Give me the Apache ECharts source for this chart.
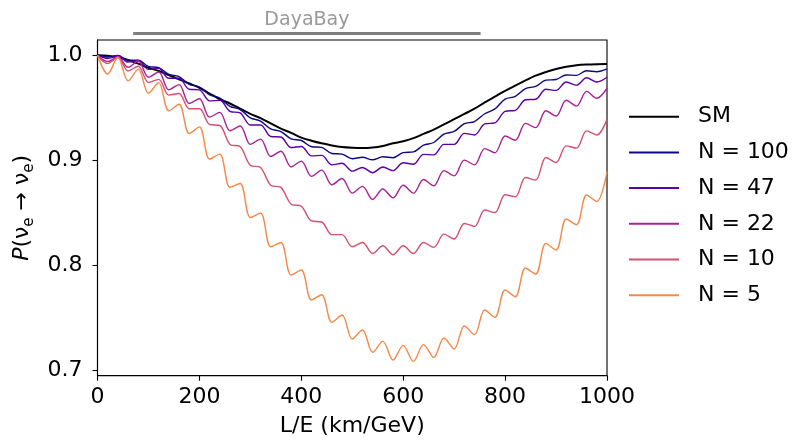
<!DOCTYPE html>
<html><head><meta charset="utf-8">
<script src="https://cdn.jsdelivr.net/npm/echarts@6/dist/echarts.min.js"></script>
<style>html,body{margin:0;padding:0;background:#fff}#c{width:799px;height:444px}</style>
</head><body><div id="c"></div>
<script>
// L/E sample positions (km/GeV)
const lOverE = [0,20,40,60,80,100,120,140,160,180,200,220,240,260,280,300,320,340,360,380,400,
  420,440,460,480,500,520,540,560,580,600,620,640,660,680,700,720,740,760,780,800,
  820,840,860,880,900,920,940,960,980,1000];

const probSM = [1.0,0.9995,0.998,0.9955,0.992,0.988,0.985,0.981,0.977,0.973,0.969,0.9635,0.958,0.954,0.949,0.944,0.940,0.935,0.930,0.926,0.9215,
  0.9185,0.916,0.914,0.9125,0.9118,0.9115,0.912,0.9135,0.916,0.918,0.921,0.925,0.929,0.934,0.939,0.944,0.949,0.955,0.9605,0.966,
  0.971,0.976,0.9805,0.984,0.9868,0.989,0.9905,0.9912,0.9915,0.9916];

const probN100 = [1.0,0.9983,0.9997,0.9953,0.9952,0.9893,0.9882,0.9818,0.9797,0.9723,0.9697,0.9623,0.9592,0.9513,0.9482,0.9403,0.9372,0.9298,0.9272,0.9203,0.9187,
  0.9128,0.9122,0.9063,0.9057,0.9013,0.9027,0.9003,0.9032,0.9023,0.9072,0.9078,0.9142,0.9168,0.9247,0.9273,0.9347,0.9368,0.9442,0.9488,0.9582,
  0.9608,0.9682,0.9703,0.9762,0.9768,0.9812,0.9808,0.9852,0.9843,0.987];

const probN47 = [1.0,0.9968,0.9995,0.9935,0.995,0.9865,0.9875,0.978,0.978,0.9675,0.967,0.9565,0.957,0.9465,0.945,0.9335,0.9335,0.9225,0.922,0.912,0.913,
  0.904,0.9045,0.8955,0.897,0.8895,0.893,0.888,0.8935,0.89,0.8975,0.896,0.9055,0.905,0.915,0.915,0.9255,0.924,0.9345,0.9355,0.9465,
  0.9475,0.9575,0.958,0.9675,0.9665,0.9745,0.9715,0.9785,0.9745,0.979];

const probN22 = [1.0,0.994,0.9985,0.9885,0.9945,0.979,0.984,0.967,0.972,0.954,0.9585,0.941,0.9455,0.928,0.9325,0.915,0.92,0.9035,0.9085,0.8935,0.899,
  0.8845,0.8905,0.8765,0.8825,0.8685,0.875,0.8625,0.8725,0.864,0.876,0.8685,0.8815,0.8755,0.89,0.885,0.9,0.8955,0.911,0.907,0.923,
  0.919,0.935,0.931,0.947,0.942,0.957,0.9515,0.9655,0.959,0.9685];

const probN10 = [1.0,0.992,0.998,0.985,0.9895,0.974,0.977,0.962,0.9635,0.949,0.949,0.934,0.933,0.915,0.913,0.895,0.893,0.876,0.874,0.858,0.856,
  0.842,0.841,0.829,0.829,0.8174,0.8215,0.811,0.8184,0.8098,0.8184,0.811,0.8215,0.8168,0.8295,0.8248,0.8396,0.8368,0.8524,0.850,0.867,
  0.865,0.8834,0.881,0.9025,0.8977,0.9136,0.9114,0.9279,0.924,0.939];

const probN5 = [1.0,0.982,0.998,0.9755,0.9867,0.9638,0.9739,0.947,0.9533,0.9253,0.9317,0.901,0.9057,0.874,0.8777,0.8453,0.8495,0.8174,0.8215,0.7905,0.7952,
  0.7667,0.7717,0.7453,0.7524,0.7295,0.7381,0.7168,0.7272,0.7095,0.7234,0.7082,0.7241,0.712,0.7305,0.72,0.7419,0.7336,0.7571,0.7501,0.7762,
  0.7698,0.7971,0.7914,0.8206,0.8143,0.8438,0.8384,0.8667,0.8606,0.889];

const seriesNames = ['SM','N = 100','N = 47','N = 22','N = 10','N = 5'];
const seriesValues = [probSM, probN100, probN47, probN22, probN10, probN5];
const seriesColors = ['#000000','#0d0887','#5c01a6','#a82296','#d35171','#f48849'];
const seriesWidths = [2, 1.4, 1.4, 1.4, 1.4, 1.4];

const yTicks = [0.7, 0.8, 0.9, 1.0];
const dayaBayRange = [70, 752];
const dayaBayLevel = 1.0208;

const FONT = 'DejaVu Sans';
const chart = echarts.init(document.getElementById('c'), null, {renderer: 'canvas'});

const series = seriesNames.map((name, k) => ({
  name: name,
  type: 'line',
  data: lOverE.map((x, i) => [x, seriesValues[k][i]]),
  smooth: 0.33,
  symbol: 'none',
  showSymbol: false,
  lineStyle: {color: seriesColors[k], width: seriesWidths[k]},
  itemStyle: {color: seriesColors[k]},
  z: 2 + k
}));

series.push({
  name: 'DayaBay',
  type: 'line',
  data: dayaBayRange.map(x => [x, dayaBayLevel]),
  symbol: 'none',
  clip: false,
  silent: true,
  lineStyle: {color: '#808080', width: 3},
  z: 10
});
series.push({
  name: 'DayaBayLabel',
  type: 'scatter',
  data: [[(dayaBayRange[0] + dayaBayRange[1]) / 2, dayaBayLevel]],
  symbolSize: 0,
  clip: false,
  silent: true,
  label: {show: true, position: 'top', distance: 4, formatter: 'DayaBay',
    color: '#808080', fontSize: 19, fontFamily: FONT},
  z: 10
});

chart.setOption({
  animation: false,
  backgroundColor: '#ffffff',
  textStyle: {fontFamily: FONT},
  grid: {left: 97.5, right: 192, top: 40, bottom: 68.3, show: true,
    borderColor: '#000', borderWidth: 1.1, backgroundColor: 'transparent'},
  legend: {
    data: seriesNames,
    orient: 'vertical',
    left: 628, top: 105.7, padding: 0,
    itemWidth: 50, itemHeight: 14, itemGap: 13.7,
    itemStyle: {opacity: 0},
    textStyle: {fontSize: 22, color: '#000', fontFamily: FONT, lineHeight: 22, padding: [0,0,0,14]},
    selectedMode: false
  },
  xAxis: {
    type: 'value', min: 0, max: 1000, interval: 200,
    name: 'L/E (km/GeV)', nameLocation: 'middle', nameGap: 40,
    nameTextStyle: {fontSize: 22, color: '#000', fontFamily: FONT},
    axisLine: {lineStyle: {color: '#000', width: 1.1}},
    axisTick: {show: true, length: 5, lineStyle: {color: '#000', width: 1.1}},
    axisLabel: {fontSize: 22, color: '#000', margin: 11, fontFamily: FONT, formatter: v => String(v)},
    splitLine: {show: false}
  },
  yAxis: {
    type: 'value', min: 0.6945, max: 1.0145,
    name: '{it|P}(ν{sub|e} → ν{sub|e})', nameLocation: 'middle', nameGap: 58, nameRotate: 90,
    nameTextStyle: {fontSize: 22, color: '#000', fontFamily: FONT,
      rich: {
        it: {fontSize: 22, fontStyle: 'italic', fontFamily: FONT, color: '#000', lineHeight: 28},
        sub: {fontSize: 15, fontFamily: FONT, color: '#000', verticalAlign: 'bottom', lineHeight: 18}
      }},
    axisLine: {show: true, lineStyle: {color: '#000', width: 1.1}},
    axisTick: {show: true, length: 5, customValues: yTicks, lineStyle: {color: '#000', width: 1.1}},
    axisLabel: {fontSize: 22, color: '#000', margin: 15, fontFamily: FONT,
      customValues: yTicks, formatter: v => v.toFixed(1)},
    splitLine: {show: false}
  },
  series: series
});
</script></body></html>
